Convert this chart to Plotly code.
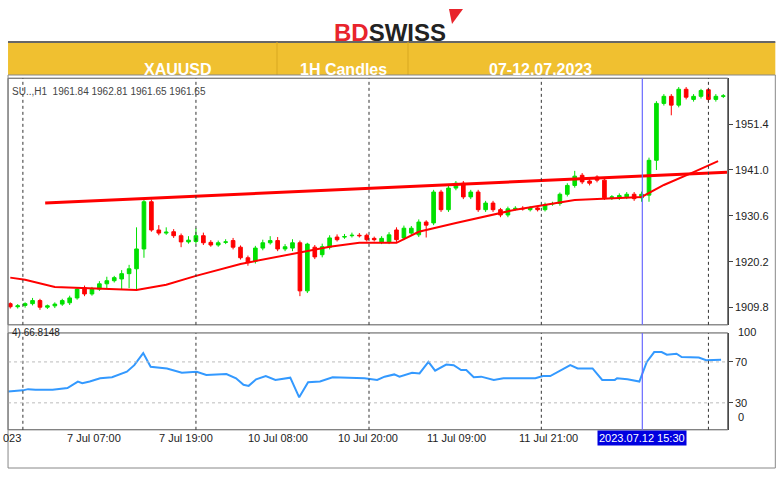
import plotly.graph_objects as go

# candle data (one bar per hour, index 0..96)
opens = [1910.7, 1910.0, 1910.3, 1910.7, 1911.4, 1909.9, 1910.2, 1910.6, 1910.9, 1912.0,
         1914.3, 1912.9, 1914.0, 1915.2, 1915.9, 1916.3, 1917.5, 1918.6, 1923.1, 1933.8,
         1927.4, 1926.7, 1927.0, 1926.1, 1924.7, 1924.8, 1926.1, 1924.6, 1924.0, 1924.6,
         1925.0, 1923.5, 1921.1, 1920.3, 1923.3, 1924.5, 1925.0, 1923.1, 1923.3, 1924.5,
         1913.6, 1923.5, 1921.8, 1923.5, 1925.8, 1925.8, 1926.1, 1926.2, 1926.2, 1925.5,
         1924.7, 1924.7, 1927.4, 1925.6, 1926.7, 1926.3, 1929.2, 1929.0, 1936.0, 1932.0,
         1936.9, 1938.0, 1934.9, 1936.0, 1932.0, 1933.5, 1932.0, 1930.8, 1932.2, 1932.3,
         1932.0, 1932.4, 1932.0, 1933.3, 1933.4, 1935.5, 1937.5, 1939.8, 1938.5, 1939.4,
         1938.7, 1934.7, 1934.7, 1934.9, 1935.5, 1934.7, 1935.3, 1943.2, 1956.1, 1957.7,
         1955.7, 1959.3, 1957.0, 1957.7, 1959.2, 1957.0, 1957.7]
closes = [1910.0, 1910.2, 1910.7, 1911.4, 1909.9, 1910.2, 1910.6, 1911.4, 1912.0, 1914.0,
          1912.9, 1914.0, 1915.2, 1915.9, 1916.6, 1917.5, 1918.6, 1923.1, 1933.8, 1927.4,
          1926.7, 1926.9, 1926.1, 1924.7, 1925.1, 1926.1, 1924.5, 1924.0, 1924.5, 1924.7,
          1923.5, 1921.1, 1920.0, 1923.3, 1924.5, 1925.0, 1923.1, 1923.6, 1924.5, 1913.6,
          1924.2, 1921.3, 1923.6, 1925.6, 1925.2, 1925.9, 1926.2, 1926.1, 1925.2, 1925.2,
          1925.5, 1926.3, 1925.2, 1927.8, 1927.8, 1929.2, 1928.5, 1936.0, 1932.0, 1936.9,
          1938.0, 1934.9, 1936.0, 1932.0, 1933.5, 1932.0, 1930.8, 1932.2, 1932.3, 1932.2,
          1932.4, 1932.0, 1933.1, 1933.4, 1935.5, 1937.5, 1939.6, 1938.3, 1938.0, 1938.7,
          1934.7, 1934.9, 1935.2, 1935.5, 1934.5, 1935.5, 1943.2, 1956.1, 1957.7, 1955.7,
          1959.3, 1957.5, 1957.7, 1959.0, 1957.0, 1957.7, 1957.8]
highs = [1911.0, 1910.6, 1911.0, 1912.0, 1911.8, 1910.5, 1911.0, 1911.8, 1912.5, 1914.4,
         1914.8, 1914.5, 1915.8, 1916.8, 1917.0, 1918.3, 1919.5, 1928.0, 1934.3, 1934.3,
         1928.5, 1928.0, 1927.6, 1926.6, 1926.0, 1927.8, 1926.8, 1925.1, 1925.0, 1925.3,
         1925.6, 1923.9, 1921.6, 1923.8, 1925.2, 1926.0, 1925.8, 1924.2, 1925.3, 1925.0,
         1924.5, 1924.0, 1924.3, 1926.2, 1926.4, 1926.5, 1926.8, 1926.7, 1926.6, 1925.9,
         1926.0, 1926.9, 1928.0, 1928.4, 1928.3, 1929.8, 1929.6, 1936.5, 1936.5, 1937.4,
         1938.5, 1938.5, 1936.5, 1936.5, 1934.0, 1934.0, 1932.4, 1932.7, 1932.8, 1932.8,
         1932.8, 1932.8, 1933.6, 1933.8, 1935.9, 1938.0, 1940.8, 1940.3, 1939.0, 1939.8,
         1939.1, 1935.3, 1935.7, 1936.0, 1936.0, 1936.1, 1943.8, 1956.6, 1958.2, 1958.2,
         1959.8, 1959.8, 1958.2, 1959.4, 1959.6, 1958.2, 1958.2]
lows = [1909.6, 1909.6, 1909.8, 1910.3, 1909.3, 1909.5, 1909.7, 1910.2, 1910.4, 1911.6,
        1912.4, 1912.5, 1913.6, 1914.2, 1915.5, 1913.8, 1914.2, 1913.8, 1921.1, 1927.0,
        1926.2, 1926.3, 1925.6, 1923.5, 1924.3, 1924.3, 1924.0, 1923.6, 1923.6, 1924.2,
        1923.0, 1920.7, 1919.3, 1919.8, 1922.8, 1924.1, 1922.6, 1922.6, 1922.6, 1912.4,
        1913.1, 1920.8, 1921.2, 1923.0, 1924.8, 1925.4, 1925.7, 1925.7, 1924.8, 1924.8,
        1924.2, 1924.2, 1924.7, 1925.1, 1926.3, 1925.8, 1925.7, 1928.5, 1931.5, 1931.5,
        1936.4, 1934.4, 1934.4, 1931.5, 1931.5, 1931.5, 1930.3, 1930.3, 1931.8, 1931.8,
        1931.6, 1931.6, 1931.6, 1932.9, 1932.9, 1935.0, 1937.0, 1937.8, 1937.5, 1938.2,
        1934.2, 1934.2, 1934.2, 1934.4, 1934.0, 1933.8, 1933.8, 1941.0, 1955.6, 1953.4,
        1955.2, 1957.0, 1956.5, 1957.2, 1956.5, 1956.5, 1957.3]

# moving average (red thin) keypoints
ma_x = [0, 2, 6, 10, 17, 21, 25, 31, 39, 43, 47, 52, 55, 60, 68, 76, 85, 88, 92, 95.3]
ma_y = [1916.6, 1916.1, 1914.5, 1914.3, 1913.8, 1915.0, 1917.0, 1919.7, 1922.2, 1923.6,
        1924.5, 1924.5, 1927.0, 1929.0, 1932.0, 1934.2, 1934.9, 1937.6, 1940.5, 1943.0]

# trend line
trend_x = [4.7, 96.5]
trend_y = [1933.5, 1940.5]

# RSI line
rsi_x = [-0.27, 1.7, 2.4, 3.4, 5.7, 7.7, 9.1, 9.7, 10.7, 12.1, 13.7, 15.7, 16.7, 17.9, 18.9,
         21.1, 23.1, 25.1, 26.4, 29.1, 30.4, 31.4, 32.1, 33.1, 34.4, 35.7, 37.7, 38.9, 40.1,
         41.7, 43.4, 47.7, 49.4, 50.4, 51.7, 52.4, 54.1, 55.1, 56.3, 57.2, 58.7, 59.7, 60.7,
         61.4, 62.4, 63.4, 65.1, 66.4, 70.7, 71.7, 72.7, 74.1, 75.4, 76.4, 78.4, 79.7, 81.4,
         81.7, 83.1, 84.7, 85.7, 86.7, 87.7, 88.4, 89.7, 90.4, 92.7, 93.7, 95.7]
rsi_y = [41.2, 42.2, 43.4, 42.8, 42.8, 44.4, 50.8, 49.2, 50.8, 54.0, 55.0, 60.4, 66.8, 78.6, 65.2,
         63.6, 59.4, 60.4, 57.2, 58.2, 54.0, 47.6, 46.6, 53.0, 56.2, 52.4, 54.6, 35.4, 50.1,
         50.8, 55.0, 54.0, 52.4, 55.6, 57.8, 55.6, 59.4, 58.8, 70.0, 61.4, 67.4, 66.8, 62.0,
         62.0, 55.0, 55.6, 52.4, 54.0, 54.0, 56.2, 56.2, 62.0, 66.8, 63.6, 63.6, 52.4, 52.4,
         54.0, 53.0, 50.8, 70.0, 79.6, 79.6, 77.0, 78.0, 74.8, 74.2, 71.6, 72.2]

price_ticks = [1909.8, 1920.2, 1930.6, 1941.0, 1951.4]
rsi_ticks = [30, 70]
rsi_edge_labels = ["100", "0"]
grid_x = [1.7, 25, 48.3, 71.5, 94]
time_labels = ["023", "7 Jul 07:00", "7 Jul 19:00", "10 Jul 08:00", "10 Jul 20:00",
               "11 Jul 09:00", "11 Jul 21:00", "12 Jul 22:00"]
time_pos = [0.3, 11.3, 23.7, 36, 48.1, 60.1, 72.4, 96.8]
cursor_x = 85.1
cursor_label = "2023.07.12 15:30"

GREEN = "#00e000"
RED = "#ff0000"

fig = go.Figure()
fig.add_trace(go.Candlestick(
    x=list(range(len(opens))), open=opens, high=highs, low=lows, close=closes,
    increasing=dict(line=dict(color=GREEN, width=1), fillcolor=GREEN),
    decreasing=dict(line=dict(color=RED, width=1), fillcolor=RED),
    whiskerwidth=0, xaxis="x", yaxis="y", showlegend=False))
fig.add_trace(go.Scatter(x=ma_x, y=ma_y, mode="lines", line=dict(color=RED, width=2),
                         xaxis="x", yaxis="y", showlegend=False))
fig.add_trace(go.Scatter(x=trend_x, y=trend_y, mode="lines", line=dict(color=RED, width=3),
                         xaxis="x", yaxis="y", showlegend=False))
fig.add_trace(go.Scatter(x=rsi_x, y=rsi_y, mode="lines", line=dict(color="#3399ff", width=2),
                         xaxis="x2", yaxis="y2", showlegend=False))

xr = [-0.3, 96.6]
fig.update_layout(
    width=780, height=477, margin=dict(l=0, r=0, t=0, b=0),
    paper_bgcolor="white", plot_bgcolor="white",
    font=dict(family="Liberation Sans, Arial", size=11, color="#222"),
    xaxis=dict(domain=[0.0103, 0.933], range=xr, showticklabels=False, showgrid=False,
               zeroline=False, rangeslider=dict(visible=False), anchor="y"),
    yaxis=dict(domain=[0.319, 0.836], range=[1905.9, 1961.8], side="right",
               tickvals=price_ticks, ticktext=[f"{v:.1f}" for v in price_ticks],
               ticks="outside", ticklen=4, showgrid=False, zeroline=False,
               showline=True, linecolor="#444", anchor="x"),
    xaxis2=dict(domain=[0.0103, 0.933], range=xr, showticklabels=False, showgrid=False,
                zeroline=False, anchor="y2"),
    yaxis2=dict(domain=[0.099, 0.302], range=[3.7, 98.3], side="right",
                tickvals=rsi_ticks, ticks="outside", ticklen=4, showgrid=False,
                zeroline=False, showline=True, linecolor="#444", anchor="x2"),
)

shapes = []
# pane frames
for yd in [(0.319, 0.836), (0.099, 0.302)]:
    shapes.append(dict(type="rect", xref="paper", yref="paper", x0=0.0103, x1=0.933,
                       y0=yd[0], y1=yd[1], line=dict(color="#555", width=1)))
for gx in grid_x:
    for ya in ["y", "y2"]:
        shapes.append(dict(type="line", xref="x", yref=f"{ya} domain", x0=gx, x1=gx, y0=0, y1=1,
                           line=dict(color="#333", width=1, dash="dot")))
for gy in rsi_ticks:
    shapes.append(dict(type="line", xref="x2 domain", yref="y2", x0=0, x1=1, y0=gy, y1=gy,
                       line=dict(color="#bbb", width=1, dash="dot")))
for ya in ["y", "y2"]:
    shapes.append(dict(type="line", xref="x", yref=f"{ya} domain", x0=cursor_x, x1=cursor_x,
                       y0=0, y1=1, line=dict(color="#6a6aff", width=1.2)))
# header band
shapes.append(dict(type="rect", xref="paper", yref="paper", x0=0.0103, x1=0.994,
                   y0=1 - 75 / 477, y1=1 - 42 / 477, fillcolor="#f0c030",
                   line=dict(color="#f0c030", width=0), layer="below"))
shapes.append(dict(type="line", xref="paper", yref="paper", x0=0.0103, x1=0.994,
                   y0=1 - 42 / 477, y1=1 - 42 / 477, line=dict(color="#666", width=2)))
for dx in [277, 408]:
    shapes.append(dict(type="line", xref="paper", yref="paper", x0=dx / 780, x1=dx / 780,
                       y0=1 - 75 / 477, y1=1 - 42 / 477, line=dict(color="#d8a820", width=1)))
# outer border
shapes.append(dict(type="rect", xref="paper", yref="paper", x0=0.0103, x1=0.994,
                   y0=1 - 468 / 477, y1=1 - 75 / 477, line=dict(color="#888", width=1)))
# logo arrow
shapes.append(dict(type="path", xref="paper", yref="paper",
                   path=f"M {449/780} {1-9/477} L {463/780} {1-9/477} L {452/780} {1-24/477} Z",
                   fillcolor="#e8242c", line=dict(width=0)))
fig.update_layout(shapes=shapes)

ann = [
    dict(x=390 / 780, y=1 - 17 / 477, xref="paper", yref="paper", showarrow=False,
         text="<b><span style='color:#e8242c'>BD</span><span style='color:#222'>SWISS</span></b>",
         font=dict(size=24, family="Liberation Sans Narrow, Liberation Sans")),
    dict(x=142 / 780, y=1 - 59 / 477, xref="paper", yref="paper", showarrow=False,
         text="<b>XAUUSD</b>", font=dict(size=16, color="white")),
    dict(x=343 / 780, y=1 - 59 / 477, xref="paper", yref="paper", showarrow=False,
         text="<b>1H Candles</b>", font=dict(size=16, color="white")),
    dict(x=594 / 780, y=1 - 59 / 477, xref="paper", yref="paper", showarrow=False,
         text="<b>07-12.07.2023</b>", font=dict(size=16, color="white")),
    dict(x=10 / 780, y=1 - 84 / 477, xref="paper", yref="paper", showarrow=False, xanchor="left",
         text="SU..,H1  1961.84 1962.81 1961.65 1961.65", font=dict(size=10, color="#444")),
    dict(x=10 / 780, y=1 - 340 / 477, xref="paper", yref="paper", showarrow=False, xanchor="left",
         text="4) 66.8148", font=dict(size=10, color="#222")),
    dict(x=cursor_x, y=1 - 446 / 477, xref="x2", yref="paper", showarrow=False,
         text=cursor_label, bgcolor="#0000e0", font=dict(size=11, color="white")),
    dict(x=736 / 780, y=1 - 340 / 477, xref="paper", yref="paper", showarrow=False,
         xanchor="left", text=rsi_edge_labels[0], font=dict(size=11, color="#222")),
    dict(x=736 / 780, y=1 - 425 / 477, xref="paper", yref="paper", showarrow=False,
         xanchor="left", text=rsi_edge_labels[1], font=dict(size=11, color="#222")),
]
for lab, pos in zip(time_labels, time_pos):
    ann.append(dict(x=pos, y=1 - 446 / 477, xref="x2", yref="paper", showarrow=False,
                    text=lab, font=dict(size=11, color="#222")))
fig.update_layout(annotations=ann)

fig.write_html("out.html", config={"displayModeBar": False},
               post_script="document.body.style.margin='0';")
